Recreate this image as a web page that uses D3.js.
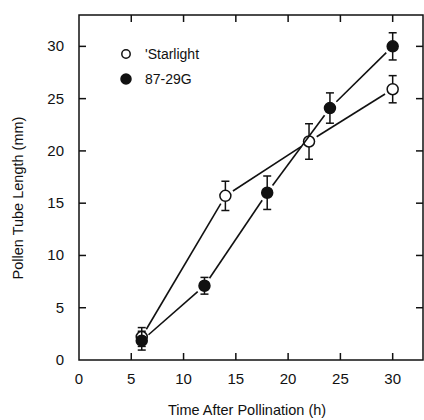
<!DOCTYPE html>
<html>
  <head>
    <meta charset="utf-8">
    <style>
      html, body {
        margin: 0px;
        padding: 0px;
        background: #fff;
      }
      svg {
        display: block;
      }
      text {
        font-family: "Liberation Sans", Arial, sans-serif;
        fill: #111;
      }
    </style>
  </head>
  <body>
    <svg id="chart" width="424" height="420"></svg>
    <script src="https://cdnjs.cloudflare.com/ajax/libs/d3/7.8.5/d3.min.js"></script>
    <script>
      // data
      var hoursStarlight = [6, 14, 22, 30];
      var lengthStarlight = [2.2, 15.7, 20.9, 25.9];
      var errStarlight = [0.9, 1.4, 1.7, 1.3];

      var hours8729G = [6, 12, 18, 24, 30];
      var length8729G = [1.85, 7.1, 16.0, 24.1, 30.0];
      var err8729G = [0.9, 0.8, 1.6, 1.45, 1.3];

      var xTicks = [0, 5, 10, 15, 20, 25, 30];
      var yTicks = [0, 5, 10, 15, 20, 25, 30];

      var series = [
        {name: "'Starlight", x: hoursStarlight, y: lengthStarlight, e: errStarlight, filled: false},
        {name: "87-29G", x: hours8729G, y: length8729G, e: err8729G, filled: true}
      ];

      var plotLeft = 79, plotRight = 423, plotTop = 15, plotBottom = 360;
      var svg = d3.select('#chart');

      var x = d3.scaleLinear().domain([0, 32.9]).range([plotLeft, plotRight]);
      var y = d3.scaleLinear().domain([0, 33]).range([plotBottom, plotTop]);

      var tickLen = 7;
      var axisColor = '#111';

      // frame
      svg.append('rect')
        .attr('x', plotLeft).attr('y', plotTop)
        .attr('width', plotRight - plotLeft).attr('height', plotBottom - plotTop)
        .attr('fill', 'none').attr('stroke', axisColor).attr('stroke-width', 1.5);

      // ticks, all pointing inward
      var tickG = svg.append('g').attr('stroke', axisColor).attr('stroke-width', 1.5);
      xTicks.filter(function(d) { return d > 0; }).forEach(function(d) {
        tickG.append('line').attr('x1', x(d)).attr('x2', x(d)).attr('y1', plotBottom).attr('y2', plotBottom - tickLen);
        tickG.append('line').attr('x1', x(d)).attr('x2', x(d)).attr('y1', plotTop).attr('y2', plotTop + tickLen);
      });
      yTicks.filter(function(d) { return d > 0; }).forEach(function(d) {
        tickG.append('line').attr('x1', plotLeft).attr('x2', plotLeft + tickLen).attr('y1', y(d)).attr('y2', y(d));
        tickG.append('line').attr('x1', plotRight).attr('x2', plotRight - tickLen).attr('y1', y(d)).attr('y2', y(d));
      });

      // tick labels
      svg.append('g').selectAll('text').data(xTicks).enter().append('text')
        .attr('x', function(d) { return x(d); })
        .attr('y', plotBottom + 24)
        .attr('text-anchor', 'middle')
        .style('font-size', '15px')
        .text(function(d) { return d; });

      svg.append('g').selectAll('text').data(yTicks).enter().append('text')
        .attr('x', plotLeft - 15)
        .attr('y', function(d) { return y(d) + 5; })
        .attr('text-anchor', 'end')
        .style('font-size', '15px')
        .text(function(d) { return d; });

      // axis titles
      svg.append('text')
        .attr('x', (plotLeft + plotRight) / 2 - 4)
        .attr('y', 415)
        .attr('text-anchor', 'middle')
        .style('font-size', '14.5px')
        .text('Time After Pollination (h)');

      svg.append('text')
        .attr('transform', 'translate(23,' + 198 + ') rotate(-90)')
        .attr('text-anchor', 'middle')
        .style('font-size', '14.5px')
        .text('Pollen Tube Length (mm)');

      var r = 5.5, gap = 9;

      series.forEach(function(s) {
        var g = svg.append('g');
        var pts = s.x.map(function(d, i) { return [x(d), y(s.y[i])]; });

        // connecting segments, stopping short of the markers
        for (var i = 0; i < pts.length - 1; i++) {
          var p = pts[i], q = pts[i + 1];
          var dx = q[0] - p[0], dy = q[1] - p[1];
          var len = Math.sqrt(dx * dx + dy * dy);
          var ux = dx / len, uy = dy / len;
          g.append('line')
            .attr('x1', p[0] + ux * gap).attr('y1', p[1] + uy * gap)
            .attr('x2', q[0] - ux * gap).attr('y2', q[1] - uy * gap)
            .attr('stroke', axisColor).attr('stroke-width', 1.6);
        }

        // error bars
        s.x.forEach(function(d, i) {
          var cx = x(d), y1 = y(s.y[i] + s.e[i]), y2 = y(s.y[i] - s.e[i]);
          g.append('line').attr('x1', cx).attr('x2', cx).attr('y1', y1).attr('y2', y2)
            .attr('stroke', axisColor).attr('stroke-width', 1.5);
          g.append('line').attr('x1', cx - 4).attr('x2', cx + 4).attr('y1', y1).attr('y2', y1)
            .attr('stroke', axisColor).attr('stroke-width', 1.5);
          g.append('line').attr('x1', cx - 4).attr('x2', cx + 4).attr('y1', y2).attr('y2', y2)
            .attr('stroke', axisColor).attr('stroke-width', 1.5);
        });

        g.selectAll('circle').data(pts).enter().append('circle')
          .attr('cx', function(d) { return d[0]; })
          .attr('cy', function(d) { return d[1]; })
          .attr('r', r)
          .attr('fill', s.filled ? axisColor : '#fff')
          .attr('stroke', axisColor)
          .attr('stroke-width', 1.5);
      });

      // legend
      var legend = svg.append('g');
      series.forEach(function(s, i) {
        var ly = 54 + i * 25;
        legend.append('circle')
          .attr('cx', 126).attr('cy', ly).attr('r', s.filled ? 5 : 4.2)
          .attr('fill', s.filled ? axisColor : '#fff')
          .attr('stroke', axisColor).attr('stroke-width', 1.5);
        legend.append('text')
          .attr('x', 145).attr('y', ly + 5)
          .style('font-size', '14px')
          .text(s.name);
      });
    </script>
  </body>
</html>
